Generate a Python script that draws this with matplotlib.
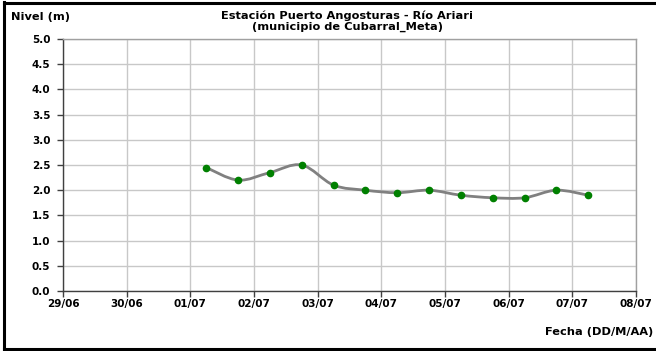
import matplotlib
matplotlib.use("Agg")
import matplotlib.pyplot as plt
import matplotlib.dates as mdates
from matplotlib.path import Path
from matplotlib.patches import PathPatch
from matplotlib.lines import Line2D
import numpy as np
import datetime as dt

plt.rcParams['font.family'] = ['DejaVu Sans']

fechas = ["2013-07-01 06:00", "2013-07-01 18:00", "2013-07-02 06:00", "2013-07-02 18:00",
          "2013-07-03 06:00", "2013-07-03 18:00", "2013-07-04 06:00", "2013-07-04 18:00",
          "2013-07-05 06:00", "2013-07-05 18:00", "2013-07-06 06:00", "2013-07-06 18:00",
          "2013-07-07 06:00"]
nivel = [2.45, 2.20, 2.35, 2.50, 2.10, 2.00, 1.95, 2.00, 1.90, 1.85, 1.85, 2.00, 1.90]
tick_labels = ["29/06", "30/06", "01/07", "02/07", "03/07", "04/07", "05/07", "06/07", "07/07", "08/07"]
titulo_1 = "Estación Puerto Angosturas - Río Ariari"
titulo_2 = "(municipio de Cubarral_Meta)"

W, H = 656, 351
fig = plt.figure(figsize=(W / 100, H / 100), dpi=100)
ax = fig.add_axes([63 / W, 1 - 291 / H, (636 - 63) / W, (291 - 39) / H])

xs = mdates.date2num([dt.datetime.strptime(f, "%Y-%m-%d %H:%M") for f in fechas])
ys = np.array(nivel)

# smoothed line (Catmull-Rom style bezier, as in spreadsheet "smoothed line")
verts = [(xs[0], ys[0])]
codes = [Path.MOVETO]
n = len(xs)
for i in range(n - 1):
    p0 = (xs[max(i - 1, 0)], ys[max(i - 1, 0)])
    p1 = (xs[i], ys[i])
    p2 = (xs[i + 1], ys[i + 1])
    p3 = (xs[min(i + 2, n - 1)], ys[min(i + 2, n - 1)])
    c1 = (p1[0] + (p2[0] - p0[0]) / 6, p1[1] + (p2[1] - p0[1]) / 6)
    c2 = (p2[0] - (p3[0] - p1[0]) / 6, p2[1] - (p3[1] - p1[1]) / 6)
    verts += [c1, c2, p2]
    codes += [Path.CURVE4] * 3
ax.add_patch(PathPatch(Path(verts, codes), facecolor='none', edgecolor='#808080', lw=2.0, zorder=3))
ax.plot(xs, ys, ls='none', marker='o', ms=4.5, color='#008000', zorder=4)

start = mdates.date2num(dt.datetime(2013, 6, 29))
ticks = [start + k for k in range(len(tick_labels))]
ax.set_xlim(ticks[0], ticks[-1])
ax.set_xticks(ticks)
ax.set_xticklabels(tick_labels, fontsize=7.5, fontweight='bold')
ax.set_ylim(0, 5)
yt = np.arange(0, 5.01, 0.5)
ax.set_yticks(yt)
ax.set_yticklabels([f"{v:.1f}" for v in yt], fontsize=7.5, fontweight='bold')
ax.grid(True, color='#c8c8c8', lw=1.0)
ax.set_axisbelow(True)
for s in ['left', 'bottom']:
    ax.spines[s].set_color('#404040')
    ax.spines[s].set_linewidth(1.0)
for s in ['top', 'right']:
    ax.spines[s].set_color('#a0a0a0')
    ax.spines[s].set_linewidth(1.0)
ax.tick_params(axis='y', direction='out', length=4, width=1, color='#404040', pad=5)
ax.tick_params(axis='x', direction='out', length=4, width=1, color='#404040', pad=2)

fig.text(11 / W, 1 - 17 / H, "Nivel (m)", fontsize=8.2, fontweight='bold', va='center', ha='left')
fig.text(347 / W, 1 - 16 / H, titulo_1, fontsize=8.2, fontweight='bold', va='center', ha='center')
fig.text(347 / W, 1 - 26.5 / H, titulo_2, fontsize=8.2, fontweight='bold', va='center', ha='center')
fig.text(653 / W, 1 - 332 / H, "Fecha (DD/M/AA)", fontsize=8.2, fontweight='bold', va='center', ha='right')

# figure border
fig.add_artist(Line2D([3.5 / W, 3.5 / W], [1 - 2 / H, 1 - 349 / H], color='black', lw=2.2, transform=fig.transFigure))
fig.add_artist(Line2D([3.5 / W, 1], [1 - 2.5 / H, 1 - 2.5 / H], color='black', lw=2.2, transform=fig.transFigure))
fig.add_artist(Line2D([3.5 / W, 1], [1 - 349 / H, 1 - 349 / H], color='black', lw=2.2, transform=fig.transFigure))

fig.savefig("out.png", dpi=100)
